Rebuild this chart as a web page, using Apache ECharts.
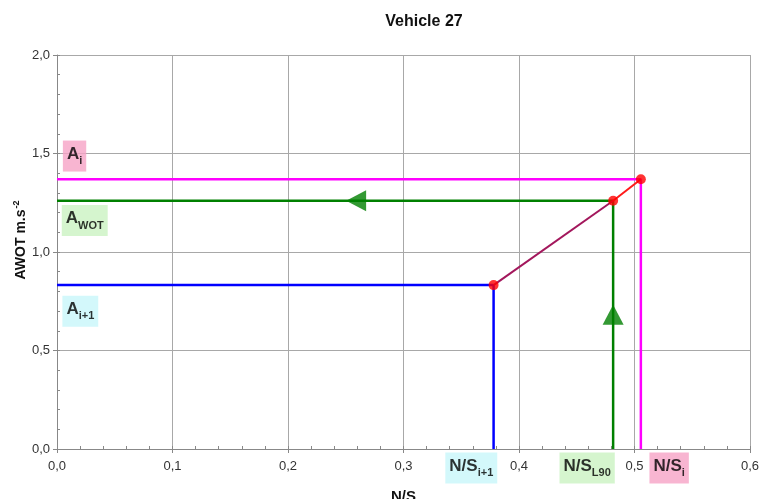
<!DOCTYPE html>
<html><head><meta charset="utf-8">
<script src="https://cdn.jsdelivr.net/npm/echarts@6/dist/echarts.min.js"></script>
<style>html,body{margin:0;padding:0;background:#fff}#c{width:765px;height:499px}</style>
</head><body><div id="c"></div>
<script>
const chartTitle = 'Vehicle 27';
const pointKeys = ['i+1', 'L90', 'i'];
const nsValues = [0.378, 0.4815, 0.5055];
const awotValues = [0.832, 1.260, 1.369];
const xTickLabels = ['0,0', '0,1', '0,2', '0,3', '0,4', '0,5', '0,6'];
const yTickLabels = ['0,0', '0,5', '1,0', '1,5', '2,0'];
const arrowOnHorizontalNS = 0.259;
const arrowOnVerticalAWOT = 0.682;

const FONT = 'Liberation Sans, Arial, sans-serif';
const lineColors = ['#0000ff', '#008000', '#ff00ff'];
const boxColors = { cyan: '#c8f6fa', green: '#caf2c2', pink: '#f6a2c6' };

const chart = echarts.init(document.getElementById('c'), null, { renderer: 'canvas' });

const rich = {
  b: { fontSize: 17, fontWeight: 'bold', fontFamily: FONT, color: '#000', verticalAlign: 'bottom', padding: [0, 0, 4, 0] },
  s: { fontSize: 11, fontWeight: 'bold', fontFamily: FONT, color: '#000', verticalAlign: 'bottom' }
};

const series = [];
// L-shaped guide lines
pointKeys.forEach((k, i) => {
  series.push({
    type: 'line', silent: true, symbol: 'none', z: 2,
    data: [[0, awotValues[i]], [nsValues[i], awotValues[i]], [nsValues[i], 0]],
    lineStyle: { color: lineColors[i], width: 2.5 }
  });
});
// connecting segments
series.push({
  type: 'line', silent: true, symbol: 'none', z: 3,
  data: [[nsValues[0], awotValues[0]], [nsValues[1], awotValues[1]]],
  lineStyle: { color: '#a3175c', width: 2 }
});
series.push({
  type: 'line', silent: true, symbol: 'none', z: 3,
  data: [[nsValues[1], awotValues[1]], [nsValues[2], awotValues[2]]],
  lineStyle: { color: '#ff1a1a', width: 2 }
});
// points
series.push({
  type: 'scatter', silent: true, z: 4, symbol: 'circle', symbolSize: 10,
  itemStyle: { color: '#ff0000' },
  data: nsValues.map((x, i) => [x, awotValues[i]])
});
// arrows
series.push({
  type: 'scatter', silent: true, z: 4, symbol: 'triangle', clip: false,
  itemStyle: { color: '#008000' },
  data: [
    { value: [arrowOnHorizontalNS, awotValues[1]], symbolRotate: 90, symbolSize: [21, 20] },
    { value: [nsValues[1], arrowOnVerticalAWOT], symbolRotate: 0, symbolSize: [21, 20] }
  ]
});
// annotation labels
const annotations = [
  { value: [0.0152, 1.487], text: '{b|A}{s|i}', bg: boxColors.pink },
  { value: [0.024, 1.160], text: '{b|A}{s|WOT}', bg: boxColors.green },
  { value: [0.0202, 0.6995], text: '{b|A}{s|i+1}', bg: boxColors.cyan },
  { value: [0.3587, -0.0964], text: '{b|N/S}{s|i+1}', bg: boxColors.cyan },
  { value: [0.459, -0.0964], text: '{b|N/S}{s|L90}', bg: boxColors.green },
  { value: [0.530, -0.0964], text: '{b|N/S}{s|i}', bg: boxColors.pink }
];
series.push({
  type: 'scatter', silent: true, z: 5, clip: false, symbolSize: 1,
  itemStyle: { color: 'rgba(0,0,0,0)' },
  data: annotations.map(a => ({
    value: a.value,
    label: {
      show: true, position: 'inside', formatter: a.text, rich: rich,
      backgroundColor: a.bg, padding: [5, 4, 5, 4]
    }
  }))
});

const gridColor = '#a8a8a8';
chart.setOption({
  animation: false,
  backgroundColor: '#fff',
  title: {
    text: chartTitle, left: 419, top: 9, textAlign: 'center',
    textStyle: { fontSize: 16, fontWeight: 'bold', fontFamily: FONT, color: '#111' }
  },
  grid: { left: 57, right: 15, top: 55, bottom: 50, containLabel: false, outerBoundsMode: 'none' },
  xAxis: [{
    type: 'value', min: 0, max: 0.6, interval: 0.1,
    name: 'N/S', nameLocation: 'middle', nameGap: 40, nameMoveOverlap: false,
    nameTextStyle: { fontSize: 15, fontWeight: 'bold', fontFamily: FONT, color: '#111' },
    axisLine: { show: true, lineStyle: { color: '#888', width: 1 } },
    axisTick: { show: true, length: 4, lineStyle: { color: '#888' } },
    axisLabel: { fontSize: 13, fontFamily: FONT, color: '#333', margin: 11,
      formatter: v => xTickLabels[Math.round(v / 0.1)] },
    splitLine: { show: true, lineStyle: { color: gridColor, width: 1 } }
  }, {
    type: 'value', min: 0, max: 0.6, interval: 0.02, position: 'bottom',
    axisLine: { show: false }, axisLabel: { show: false }, splitLine: { show: false },
    axisTick: { show: true, inside: true, length: 3, lineStyle: { color: '#888' } }
  }],
  yAxis: [{
    type: 'value', min: 0, max: 2, interval: 0.5,
    name: '{n|AWOT m.s}{p|-2}', nameLocation: 'middle', nameGap: 29, nameMoveOverlap: false,
    nameTextStyle: {
      padding: [0, 0, 0, 24],
      rich: {
        n: { fontSize: 14, fontWeight: 'bold', fontFamily: FONT, color: '#111', verticalAlign: 'bottom' },
        p: { fontSize: 9, fontWeight: 'bold', fontFamily: FONT, color: '#111', verticalAlign: 'bottom', padding: [0, 0, 7, 1] }
      }
    },
    axisLine: { show: true, lineStyle: { color: '#888', width: 1 } },
    axisTick: { show: true, length: 4, lineStyle: { color: '#888' } },
    axisLabel: { fontSize: 13, fontFamily: FONT, color: '#333', margin: 7,
      formatter: v => yTickLabels[Math.round(v / 0.5)] },
    splitLine: { show: true, lineStyle: { color: gridColor, width: 1 } }
  }, {
    type: 'value', min: 0, max: 2, interval: 0.1, position: 'left',
    axisLine: { show: false }, axisLabel: { show: false }, splitLine: { show: false },
    axisTick: { show: true, inside: true, length: 3, lineStyle: { color: '#888' } }
  }],
  series: series
});
</script>
</body></html>
